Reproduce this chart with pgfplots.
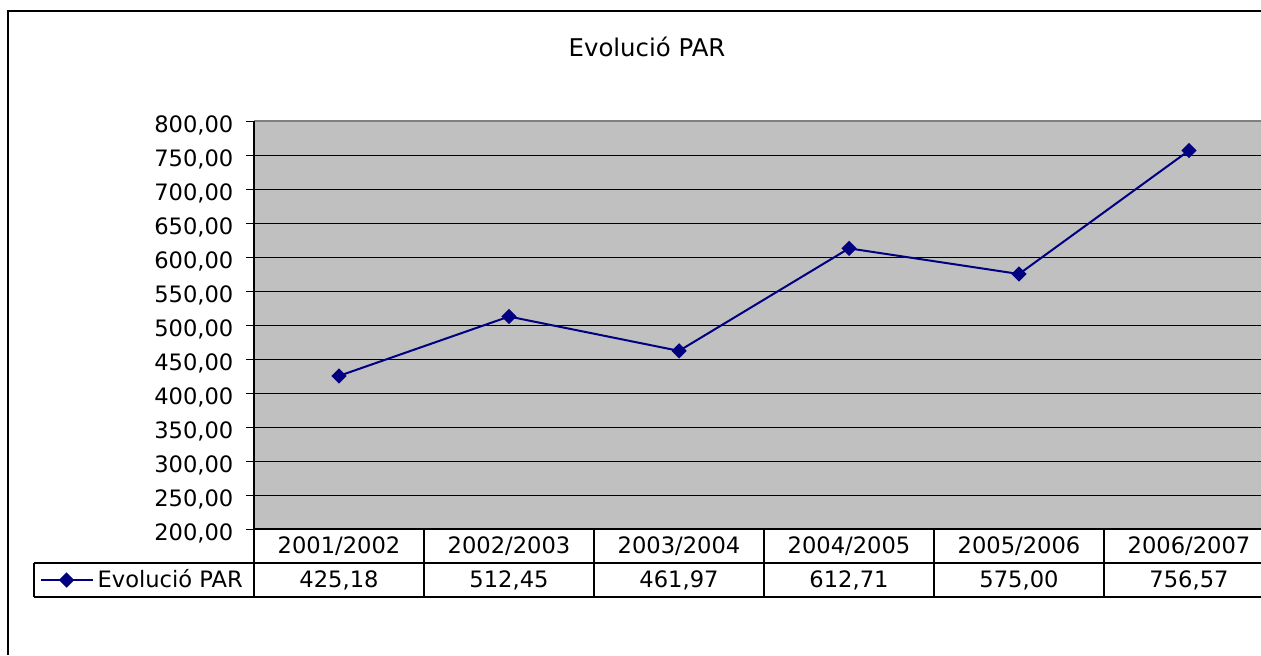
\documentclass[border=0pt]{standalone}
\usepackage{pgfplots}
\pgfplotsset{compat=1.18}
\usepackage{fontspec}
\setmainfont{DejaVu Sans}
\definecolor{navy}{RGB}{0,0,128}
\definecolor{plotbg}{RGB}{192,192,192}
\definecolor{borderg}{RGB}{128,128,128}
\begin{document}
\begin{tikzpicture}[font=\fontsize{11.3}{13.5}\selectfont]
\begin{scope}[x=0.5pt,y=-0.5pt]
\draw[line width=0.6pt] (1261,11) -- (8,11) -- (8,655);
\node[font=\fontsize{12.2}{14}\selectfont] at (647,47) {Evolució PAR};
\end{scope}
\begin{axis}[
  at={(127pt,-264.5pt)}, anchor=south west,
  width=503.5pt, height=204pt, scale only axis,
  xmin=0.5, xmax=6.42353, ymin=200, ymax=800,
  ytick distance=50,
  xtick=\empty,
  axis background/.style={fill=plotbg},
  ymajorgrids, grid style={black, line width=0.5pt},
  axis x line*=bottom, axis y line*=left,
  axis line style={black, line width=0.6pt, -},
  tick align=outside, ytick pos=left, major tick length=4pt,
  tick style={black, line width=0.5pt},
  /pgf/number format/assume math mode=true,
  yticklabel style={/pgf/number format/fixed, /pgf/number format/fixed zerofill,
    /pgf/number format/precision=2, /pgf/number format/use comma,
    /pgf/number format/1000 sep={}, xshift=-2.8pt, yshift=-2pt},
  clip=false,
  legend style={at={(axis description cs:-0.2133,-0.125)}, anchor=west, draw=none, fill=none,
    inner sep=0pt, font=\fontsize{11.3}{13.5}\selectfont},
  legend image code/.code={\draw[#1, mark repeat=2, mark phase=2] plot coordinates {(0pt,0pt)(13pt,0pt)(26pt,0pt)};},
]
\addplot[color=navy, line width=1pt, mark=square*, mark size=2.2pt, mark options={rotate=45, solid, fill=navy}]
  coordinates {(1,425.18) (2,512.45) (3,461.97) (4,612.71) (5,575.00) (6,756.57)};
\addlegendentry{Evolució PAR}
\draw[borderg, line width=0.6pt] (axis cs:0.5,800) -- (axis cs:6.42353,800);
\node at (axis cs:1,175) {2001/2002};
\node at (axis cs:2,175) {2002/2003};
\node at (axis cs:3,175) {2003/2004};
\node at (axis cs:4,175) {2004/2005};
\node at (axis cs:5,175) {2005/2006};
\node at (axis cs:6,175) {2006/2007};
\node at (axis cs:1,125) {425,18};
\node at (axis cs:2,125) {512,45};
\node at (axis cs:3,125) {461,97};
\node at (axis cs:4,125) {612,71};
\node at (axis cs:5,125) {575,00};
\node at (axis cs:6,125) {756,57};
\end{axis}
\begin{scope}[x=0.5pt,y=-0.5pt]
\draw[line width=0.6pt] (254,529) -- (1261,529);
\draw[line width=0.6pt] (34,563) -- (1261,563);
\draw[line width=0.6pt] (34,597) -- (1261,597);
\draw[line width=0.6pt] (34,563) -- (34,597);
\draw[line width=0.6pt] (254,121) -- (254,597);
\foreach \xx in {424,594,764,934,1104} {\draw[line width=0.6pt] (\xx,529) -- (\xx,597);}
\end{scope}
\pgfresetboundingbox
\useasboundingbox (0pt,0pt) rectangle (630.5pt,-327.5pt);
\end{tikzpicture}
\end{document}
